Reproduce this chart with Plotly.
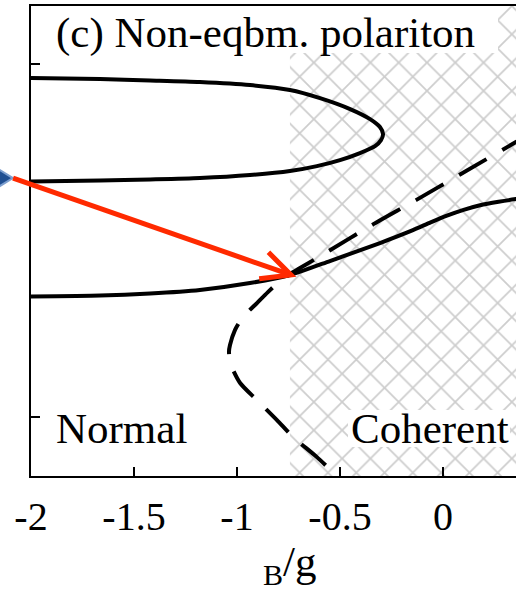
import math
import plotly.graph_objects as go

FONT = "Liberation Serif"

# ---- axes ----
X_RANGE = [-2.0, 0.3544]
Y_RANGE = [-1.334, 1.329]
X_TICKS = [-2, -1.5, -1, -0.5, 0, 0.5]
X_TICK_LABELS = ["-2", "-1.5", "-1", "-0.5", "0", "0.5"]
Y_TICKS = [-1, 1]

# ---- hatched (coherent) region starts here ----
HATCH_START = -0.743
HATCH_END = 0.6

# ---- upper solid branch (C-shaped) ----
UPPER_X = [-2.0, -1.665, -1.422, -1.180, -0.937, -0.743, -0.597, -0.451, -0.354, -0.306,
           -0.291, -0.301, -0.330, -0.403, -0.500, -0.612, -0.743, -0.937, -1.180, -1.422,
           -1.665, -2.0]
UPPER_Y = [0.921, 0.915, 0.907, 0.898, 0.881, 0.853, 0.807, 0.745, 0.688, 0.643,
           0.603, 0.569, 0.535, 0.496, 0.456, 0.422, 0.394, 0.371, 0.354, 0.346,
           0.340, 0.334]

# ---- lower solid branch ----
LOWER_X = [-2.0, -1.665, -1.422, -1.180, -0.937, -0.743, -0.549, -0.306, -0.146, -0.06,
           0.019, 0.100, 0.180, 0.270, 0.354, 0.5]
LOWER_Y = [-0.317, -0.312, -0.300, -0.280, -0.241, -0.195, -0.116, -0.014, 0.059, 0.103,
           0.141, 0.174, 0.200, 0.220, 0.235, 0.256]

# ---- dashed branch ----
DASH_X = [0.422, 0.354, 0.087, -0.131, -0.345, -0.563, -0.694, -0.743, -0.791, -0.850,
          -0.903, -0.971, -1.010, -1.034, -1.039, -1.029, -0.985, -0.903, -0.806, -0.728,
          -0.612, -0.515, -0.476]
DASH_Y = [0.603, 0.558, 0.377, 0.229, 0.088, -0.065, -0.156, -0.190, -0.229, -0.292,
          -0.354, -0.433, -0.507, -0.592, -0.632, -0.705, -0.807, -0.904, -1.017, -1.113,
          -1.227, -1.334, -1.380]

# ---- red arrow / blue marker ----
ARROW_START = (-2.087, 0.354)
ARROW_TIP = (-0.738, -0.195)
BLOB = (-2.088, 0.354)

TITLE = "(c) Non-eqbm. polariton"
LABEL_LEFT = "Normal"
LABEL_RIGHT = "Coherent"
XTITLE = "<sub>B</sub>/g"

W, H = 516, 593
ML, MR, MT, MB = 31, 0, 6, 117
PW, PH = W - ML - MR, H - MT - MB

RED = "#ff2a00"


def to_paper(x, y):
    return ((x - X_RANGE[0]) / (X_RANGE[1] - X_RANGE[0]),
            (y - Y_RANGE[0]) / (Y_RANGE[1] - Y_RANGE[0]))


def offset_paper(px, py, dx_pix, dy_pix):
    # dy_pix positive = up
    return px + dx_pix / PW, py + dy_pix / PH


fig = go.Figure()

# hatched region
fig.add_trace(go.Scatter(
    x=[HATCH_START, HATCH_END, HATCH_END, HATCH_START, HATCH_START],
    y=[Y_RANGE[0] - 1, Y_RANGE[0] - 1, Y_RANGE[1] + 1, Y_RANGE[1] + 1, Y_RANGE[0] - 1],
    mode="lines", fill="toself", line=dict(width=0), fillcolor="rgba(0,0,0,0)",
    fillpattern=dict(shape="x", fgcolor="#9c9c9c", size=20, solidity=0.17),
    hoverinfo="skip", showlegend=False))

LW = 4
fig.add_trace(go.Scatter(x=UPPER_X, y=UPPER_Y, mode="lines",
                         line=dict(color="black", width=LW, shape="spline", smoothing=0.7),
                         showlegend=False))
fig.add_trace(go.Scatter(x=LOWER_X, y=LOWER_Y, mode="lines",
                         line=dict(color="black", width=LW, shape="spline", smoothing=0.6),
                         showlegend=False))
fig.add_trace(go.Scatter(x=DASH_X, y=DASH_Y, mode="lines",
                         line=dict(color="black", width=LW, shape="spline", smoothing=0.7,
                                   dash="32px,18px"),
                         showlegend=False))

# invisible trace for the top axis
fig.add_trace(go.Scatter(x=X_RANGE, y=Y_RANGE, xaxis="x2", mode="markers",
                         marker=dict(opacity=0), hoverinfo="skip", showlegend=False))

# blue marker (partly outside the axes) as a paper-referenced shape
bx, by = to_paper(*BLOB)
p1 = offset_paper(bx, by, -26, 16)
p2 = offset_paper(bx, by, 0, 0)
p3 = offset_paper(bx, by, -26, -16)
fig.add_shape(type="path", xref="paper", yref="paper",
              path=f"M{p1[0]},{p1[1]} L{p2[0]},{p2[1]} L{p3[0]},{p3[1]} Z",
              fillcolor="#1f4f92", line=dict(color="#7d9fcf", width=2), layer="above")

# red arrow shaft (paper coords so it is not clipped)
sx0, sy0 = to_paper(*ARROW_START)
tx, ty = to_paper(*ARROW_TIP)
dxp = (tx - sx0) * PW
dyp = (ty - sy0) * PH
ang = math.atan2(dyp, dxp)
fig.add_shape(type="line", xref="paper", yref="paper", x0=sx0, y0=sy0, x1=tx, y1=ty,
              line=dict(color=RED, width=5), layer="above")
# open arrow head
ARM_LEN, HALF = 32.0, math.radians(26)
arms = []
for s in (-1, 1):
    a = ang + math.pi + s * HALF
    arms.append(offset_paper(tx, ty, ARM_LEN * math.cos(a), ARM_LEN * math.sin(a)))
fig.add_shape(type="path", xref="paper", yref="paper",
              path=f"M{arms[0][0]},{arms[0][1]} L{tx},{ty} L{arms[1][0]},{arms[1][1]}",
              line=dict(color=RED, width=5), layer="above")

# white boxes behind labels
fig.add_shape(type="rect", xref="paper", yref="paper", x0=0.04, x1=0.963, y0=0.90, y1=1.0,
              fillcolor="white", line=dict(width=0), layer="above")
fig.add_shape(type="rect", xref="paper", yref="paper", x0=0.6536, x1=0.9876, y0=0.0617, y1=0.1404,
              fillcolor="white", line=dict(width=0), layer="above")

tf = dict(family=FONT, size=43, color="black")
fig.add_annotation(text=TITLE, xref="paper", yref="paper", x=0.047, y=0.9426,
                   xanchor="left", yanchor="middle", showarrow=False, font=tf)
fig.add_annotation(text=LABEL_LEFT, xref="paper", yref="paper", x=0.047, y=0.1021,
                   xanchor="left", yanchor="middle", showarrow=False, font=tf)
fig.add_annotation(text=LABEL_RIGHT, xref="paper", yref="paper", x=0.8237, y=0.1021,
                   xanchor="center", yanchor="middle", showarrow=False, font=tf)
fig.add_annotation(text=XTITLE, xref="paper", yref="paper", x=0.534, y=-0.19,
                   xanchor="center", yanchor="middle", showarrow=False, font=tf)

axis_common = dict(showgrid=False, zeroline=False, showline=True, linecolor="black",
                   linewidth=2, ticks="inside", tickcolor="black", tickwidth=1.5)

fig.update_layout(
    width=W, height=H, margin=dict(l=ML, r=MR, t=MT, b=MB, pad=0),
    paper_bgcolor="white", plot_bgcolor="white", showlegend=False,
    font=dict(family=FONT, color="black"),
    xaxis=dict(range=X_RANGE, tickvals=X_TICKS, ticktext=X_TICK_LABELS, ticklen=9,
               tickfont=dict(family=FONT, size=40, color="black"), ticklabelstandoff=4,
               **axis_common),
    xaxis2=dict(range=X_RANGE, overlaying="x", side="top", tickvals=X_TICKS, ticklen=4,
                showticklabels=False, **axis_common),
    yaxis=dict(range=Y_RANGE, tickvals=Y_TICKS, ticklen=9, showticklabels=False,
               **axis_common),
)

fig.write_html("out.html")
